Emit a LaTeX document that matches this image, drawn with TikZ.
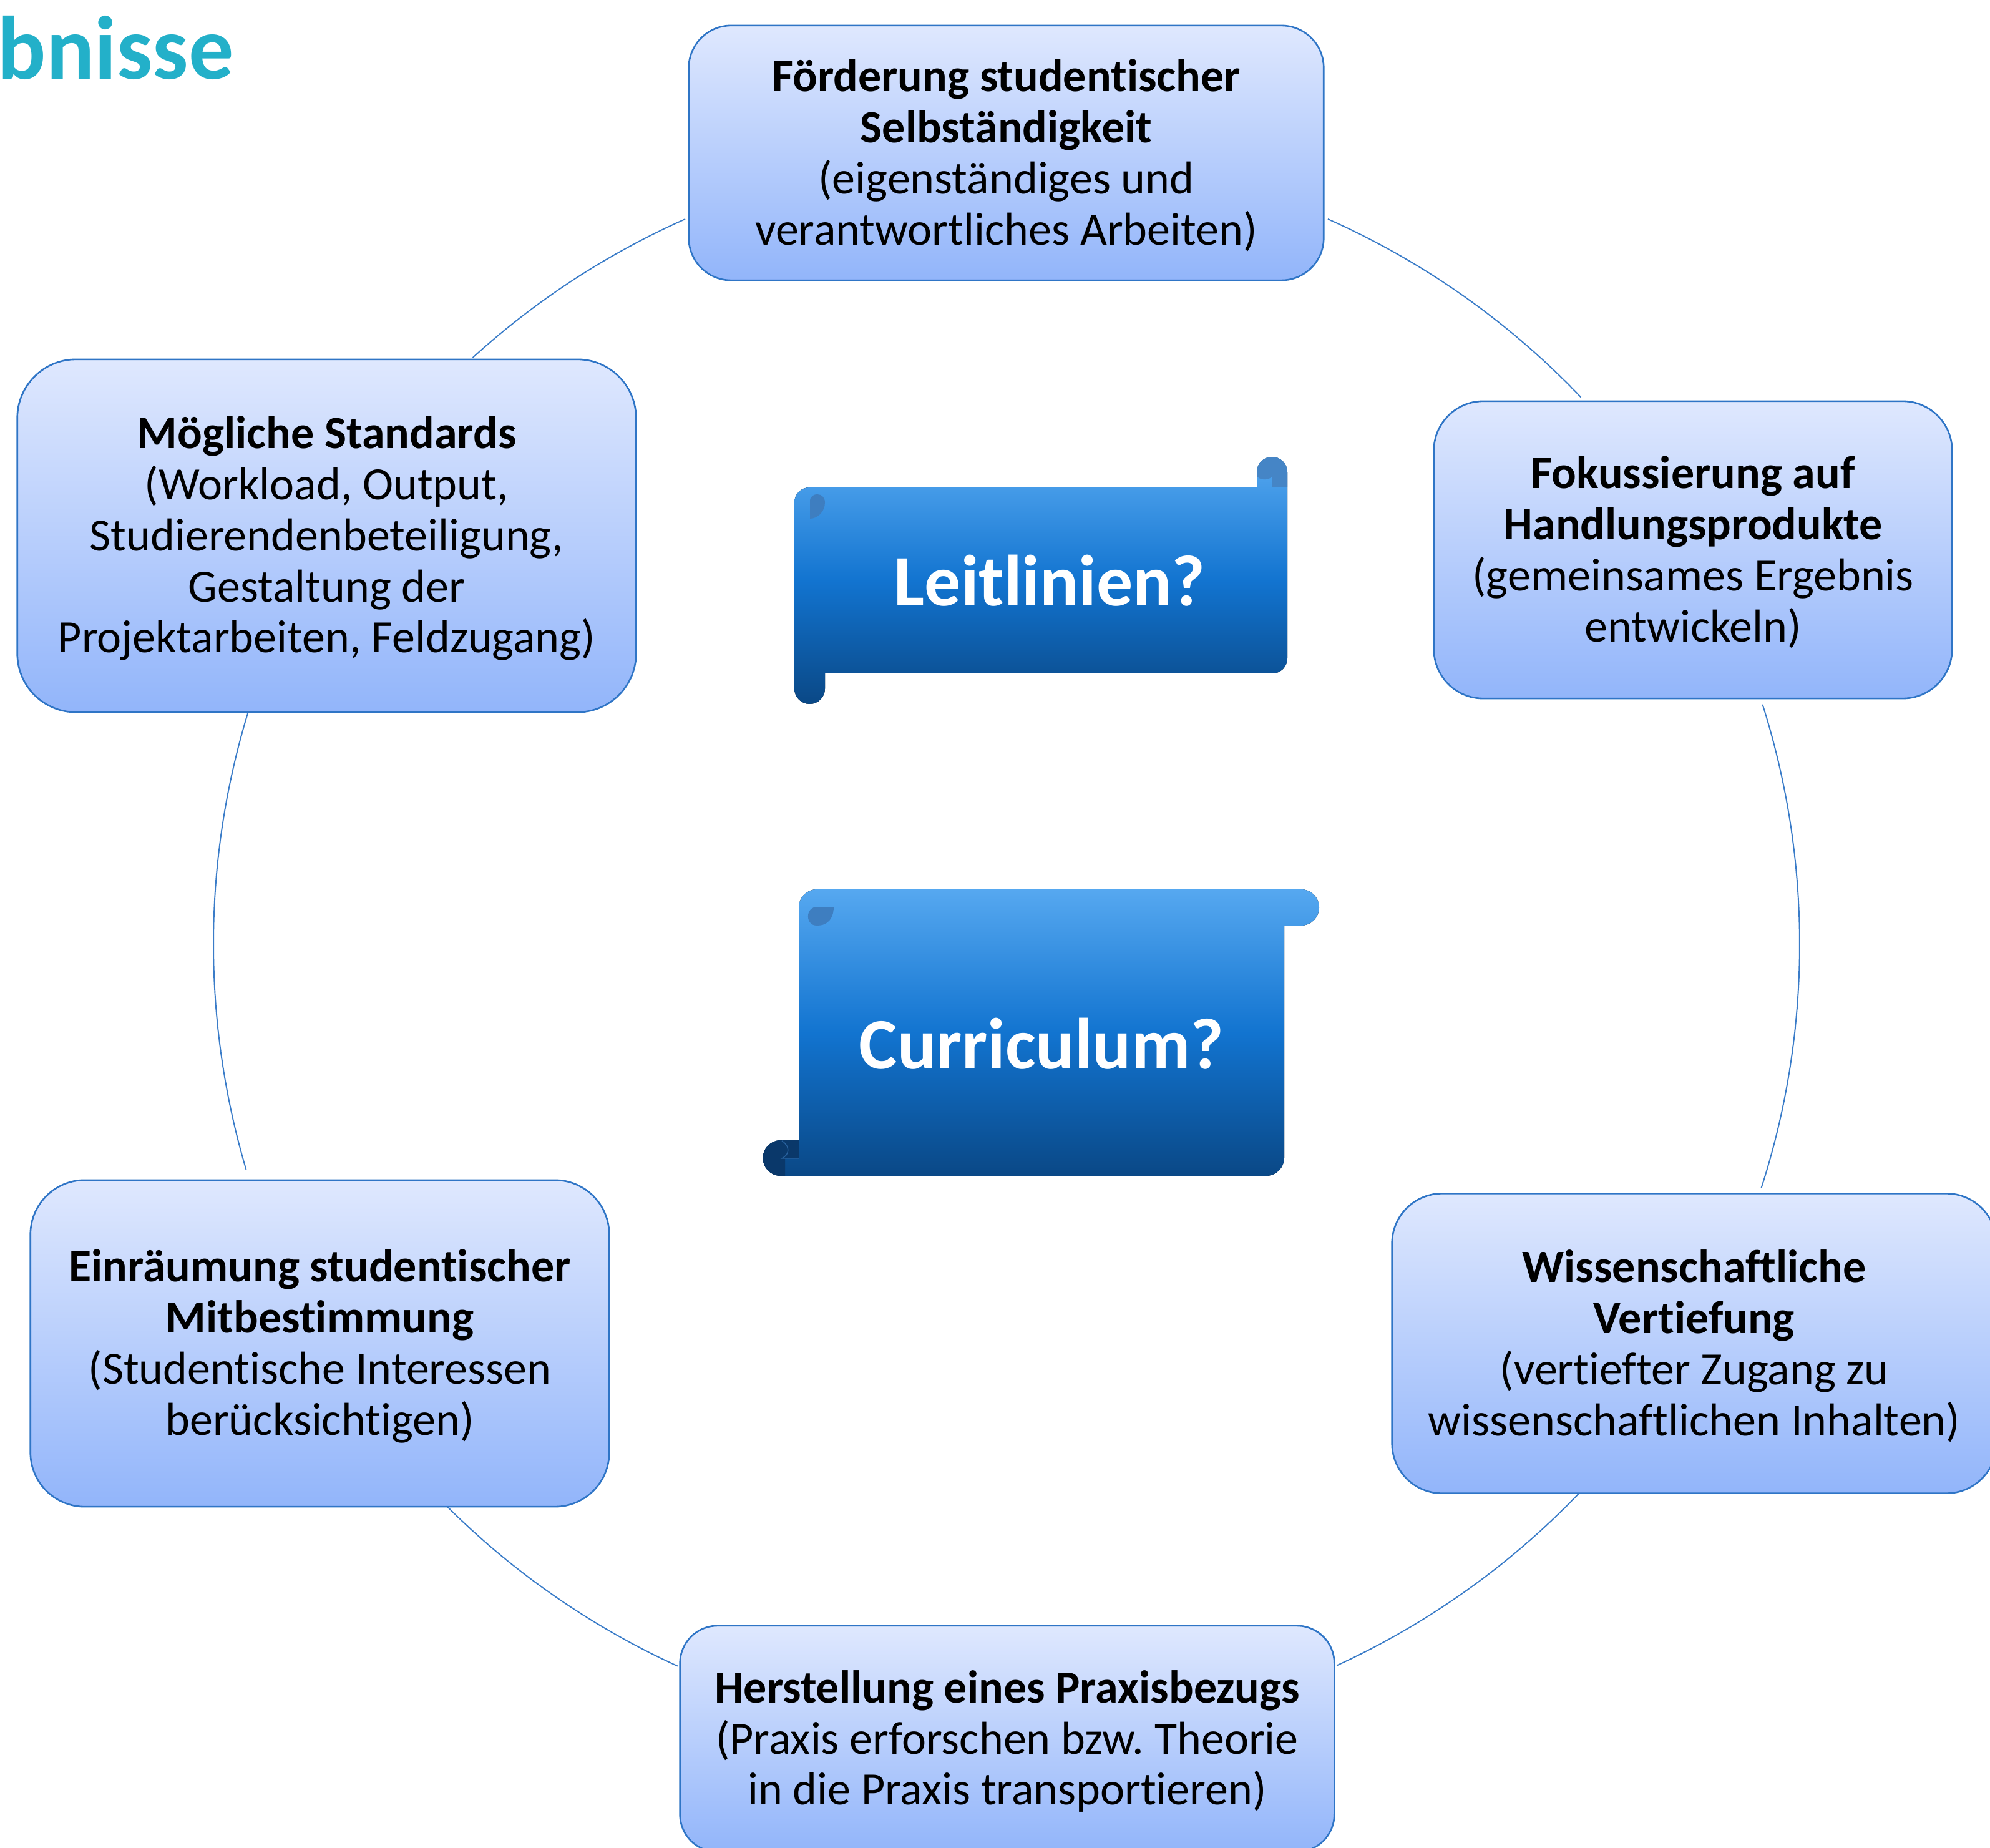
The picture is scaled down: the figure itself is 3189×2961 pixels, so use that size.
\documentclass[tikz,border=0pt]{standalone}
\usepackage{fontspec}
\setmainfont{Carlito}[Ligatures={NoCommon}]
\frenchspacing
\definecolor{boxtop}{RGB}{223,232,254}
\definecolor{boxbot}{RGB}{146,181,250}
\definecolor{boxline}{RGB}{47,117,198}
\definecolor{ringc}{RGB}{58,124,200}
\definecolor{scrtop}{RGB}{86,168,240}
\definecolor{scrmid}{RGB}{18,116,208}
\definecolor{scrbot}{RGB}{10,72,134}
\definecolor{curlc}{RGB}{62,126,192}
\definecolor{knobc}{RGB}{69,133,198}
\definecolor{knobdark}{RGB}{10,56,106}
\definecolor{titlec}{RGB}{35,176,201}
\tikzset{
  card/.style={draw=boxline, line width=0.75pt, top color=boxtop, bottom color=boxbot, inner sep=0pt},
  cardtext/.style={align=center, inner sep=0pt, font=\fontsize{21.05}{23.3}\selectfont},
  ring/.style={draw=ringc, line width=0.55pt},
  scrollbody/.style={top color=scrtop, bottom color=scrbot, middle color=scrmid},
  scrolltext/.style={text=white, font=\fontsize{33}{40}\selectfont\bfseries, inner sep=0pt, anchor=base},
}
\begin{document}
\begin{tikzpicture}[x=0.01cm, y=-0.01cm]
\path[use as bounding box] (0,0) rectangle (3189,2961);
\clip (0,0) rectangle (3189,2961);
\fill[white] (0,0) rectangle (3189,2961);

% title fragment
\node[anchor=base west, inner sep=0pt, text=titlec, font=\fontsize{41}{49}\selectfont\bfseries] (title) at (-4,127) {bnisse};

% ring arcs
\coordinate (c) at (1613,1513);
\draw[ring] (c) ++(-113.9:1271) arc[start angle=-113.9, end angle=-132.3, radius=1271];
\draw[ring] (c) ++(-66.1:1271) arc[start angle=-66.1, end angle=-43.6, radius=1271];
\draw[ring] (c) ++(-17.6:1271) arc[start angle=-17.6, end angle=17.9, radius=1271];
\draw[ring] (c) ++(43.8:1271) arc[start angle=43.8, end angle=65.4, radius=1271];
\draw[ring] (c) ++(114.5:1271) arc[start angle=114.5, end angle=134.8, radius=1271];
\draw[ring] (c) ++(163.5:1271) arc[start angle=163.5, end angle=197, radius=1271];

% boxes
\node[card, minimum width=10.17cm, minimum height=4.08cm, rounded corners=0.68cm] (n1) at (1612.5,245) {};
\node[card, minimum width=8.30cm, minimum height=4.76cm, rounded corners=0.79cm] (n2) at (2713,881) {};
\node[card, minimum width=9.68cm, minimum height=4.80cm, rounded corners=0.80cm] (n3) at (2715,2152.5) {};
\node[card, minimum width=10.48cm, minimum height=3.62cm, rounded corners=0.60cm] (n4) at (1614,2786) {};
\node[card, minimum width=9.27cm, minimum height=5.23cm, rounded corners=0.87cm] (n5) at (512.5,2152.5) {};
\node[card, minimum width=9.91cm, minimum height=5.65cm, rounded corners=0.94cm] (n6) at (523.5,858.5) {};

\node[cardtext] (t1) at ([yshift=-0.04cm]n1.center)
  {\textbf{Förderung studentischer}\\\textbf{Selbständigkeit}\\(eigenständiges und\\verantwortliches Arbeiten)};
\node[cardtext] (t2) at ([yshift=-0.04cm]n2.center)
  {\textbf{Fokussierung auf}\\\textbf{Handlungsprodukte}\\(gemeinsames Ergebnis\\entwickeln)};
\node[cardtext] (t3) at ([yshift=-0.04cm]n3.center)
  {\textbf{Wissenschaftliche}\\\textbf{Vertiefung}\\(vertiefter Zugang zu\\wissenschaftlichen Inhalten)};
\node[cardtext] (t4) at ([yshift=-0.04cm]n4.center)
  {\textbf{Herstellung eines Praxisbezugs}\\(Praxis erforschen bzw. Theorie\\in die Praxis transportieren)};
\node[cardtext] (t5) at ([yshift=-0.04cm]n5.center)
  {\textbf{Einräumung studentischer}\\\textbf{Mitbestimmung}\\(Studentische Interessen\\berücksichtigen)};
\node[cardtext] (t6) at ([yshift=-0.04cm]n6.center)
  {\textbf{Mögliche Standards}\\(Workload, Output,\\Studierendenbeteiligung,\\Gestaltung der\\Projektarbeiten, Feldzugang)};

% Leitlinien scroll
\fill[scrollbody] (1273,805) arc[start angle=180, end angle=270, radius=24]
  -- (2014,781) -- (2014,756.5) arc[start angle=180, end angle=360, radius=24.5]
  -- (2063,1055) arc[start angle=0, end angle=90, radius=24]
  -- (1322,1079) -- (1322,1103.5) arc[start angle=0, end angle=180, radius=24.5] -- cycle;
\fill[knobc] (2014,756.5) arc[start angle=180, end angle=360, radius=24.5]
  -- (2063,781) -- (2039,781) -- (2039,760) .. controls (2039,771) and (2014,771) .. (2014,760) -- cycle;
\fill[curlc] (1298,831) -- (1298,803) .. controls (1298,788) and (1322,788) .. (1322,805)
  .. controls (1322,820) and (1310,831) .. (1298,831) -- cycle;
\node[scrolltext] (lt) at (1682,971) {Leitlinien?};

% Curriculum scroll
\fill[scrollbody] (1280,1454) arc[start angle=180, end angle=270, radius=29]
  -- (2085,1425) arc[start angle=270, end angle=450, radius=29]
  -- (2058,1483) -- (2058,1855) arc[start angle=0, end angle=90, radius=29]
  -- (1251,1884) arc[start angle=90, end angle=270, radius=28.5]
  -- (1280,1827) -- cycle;
\fill[knobdark] (1280,1827) -- (1251,1827) arc[start angle=270, end angle=90, radius=28.5]
  -- (1258,1884) -- (1258,1856) -- (1280,1856) -- cycle;
\draw[curlc!60!knobdark, line width=0.4pt] (1253,1828) .. controls (1266,1836) and (1266,1850) .. (1253,1856) -- (1280,1856);
\fill[curlc] (1336,1453) -- (1310,1453) .. controls (1290,1453) and (1290,1483) .. (1309,1483)
  .. controls (1328,1483) and (1336,1470) .. (1336,1453) -- cycle;
\node[scrolltext] (ct) at (1669,1712) {Curriculum?};
\end{tikzpicture}
\end{document}
